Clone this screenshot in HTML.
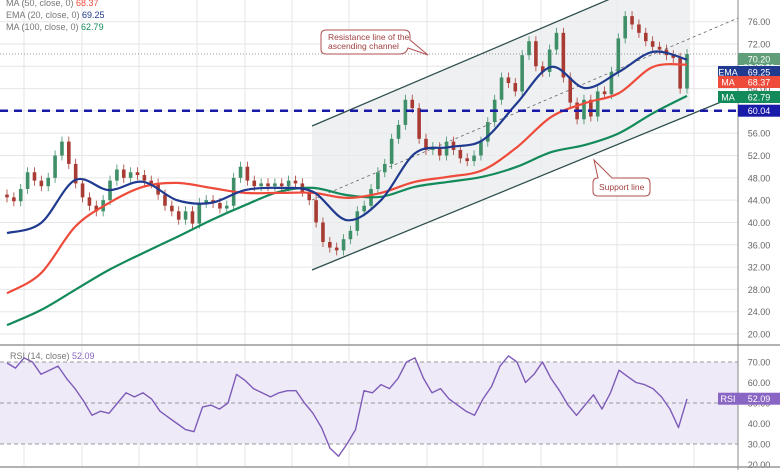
<!DOCTYPE html>
<html><head><meta charset="utf-8"><style>
body{margin:0;background:#fff;font-family:"Liberation Sans",sans-serif}
svg{display:block}
</style></head><body>
<svg id="c" width="780" height="470" viewBox="0 0 780 470"></svg>
<script>
const closes=[44.5,43.8,46,49,47.5,46.5,48,52,54.5,50.5,47,44.5,43,42,44,47.5,49.5,48,49,48.5,47.5,47,45,43,42,40.5,42,39.8,43.5,44,43.5,42.5,43,48,50,47.5,46.5,47,46.5,47,46.5,47.5,47,45.5,44,40,36.5,35.5,35,37,38.5,42,43,46,49,50.5,55,57.5,62,60.5,55,53,53.5,52,54.5,53,51.5,51,52,54.5,58,62,66,65,63.5,70,72.5,68,67,71,74,66,61.5,58.5,62,59,63.5,63,67,73,77,75.5,74,72.5,71.5,71,70,69.5,64,70.2];
const ema20=[38.1,39.9,47.6,45.8,47.3,44,43.5,45.8,46.2,45.5,40.4,44,52.4,53.5,54.8,61.4,67.9,64.1,67,70.6,69.2];
const ma50=[27.3,30.9,39.2,43.5,46.4,47.1,46.2,45.3,45.3,45.3,44.4,45.3,47.3,48.2,49.4,53.5,58.9,61.4,63.2,67.9,68.3];
const ma100=[21.6,24.3,27.9,31.5,34.5,37.4,40.4,43.1,45.5,46.2,44.9,44.6,46.4,47.3,48.2,50,52.6,53.9,56,59.6,62.7];
const rsi=[69.5,67,72,70,64,66,68,62,57,51,44,46,45,50,55,53,55,52,46,43,40,37,36,48,49,47,50,64,61,57,55,53,55,56,56,50,45,38,28,24,30,37,56,55,59,57,62,70,72,62,55,57,52,49,46,44,52,58,68,73,70,60,64,70,62,56,49,44,49,54,47,55,66,63,60,59,57,53,47,38,52];
const priceTicks=["76.00","72.00","68.00","64.00","60.00","56.00","52.00","48.00","44.00","40.00","36.00","32.00","28.00","24.00","20.00"];
const rsiTicks=["70.00","60.00","50.00","40.00","30.00","20.00"];
const vgrid=[24,82,139,197,245,292,349,427,483,541,617,694];

const NS="http://www.w3.org/2000/svg",svg=document.getElementById('c');
const py=p=>44+(72-p)*5.577;
const ry=r=>362+(70-r)*2.05;
const X0=7,X1=687;
const cx=(i,n)=>X0+i*(X1-X0)/(n-1);
function el(t,a,p){const e=document.createElementNS(NS,t);for(const k in a)e.setAttribute(k,a[k]);(p||svg).appendChild(e);return e;}

vgrid.forEach(x=>{const l=el('line',{x1:x,x2:x,y1:0,y2:466,stroke:'#e6e6e6','stroke-width':1});

});
priceTicks.forEach(t=>{const y=py(parseFloat(t));const l=el('line',{x1:0,x2:738,y1:y,y2:y,stroke:'#e6e6e6'});


const tx=el('text',{x:759,y:y+3.5,'font-size':9,fill:'#666','text-anchor':'middle'});tx.textContent=t;

});
const ch=el('polygon',{points:'312,126 608,0 690,0 690,115 312,270',fill:'#e9ebee',opacity:0.75});


const band=el('rect',{x:0,y:ry(70),width:738,height:ry(30)-ry(70),fill:'#eeeaf8'});


[70,50,30].forEach(v=>{const l=el('line',{x1:0,x2:738,y1:ry(v),y2:ry(v),stroke:'#999','stroke-dasharray':'4,3'});

});
rsiTicks.forEach(t=>{const tx=el('text',{x:759,y:ry(parseFloat(t))+3.5,'font-size':9,fill:'#666','text-anchor':'middle'});tx.textContent=t;

});
const sep=el('line',{x1:0,x2:780,y1:345,y2:345,stroke:'#999','stroke-width':1.5});


const ax=el('line',{x1:738,x2:738,y1:0,y2:470,stroke:'#888'});


const bl=el('line',{x1:0,x2:780,y1:467,y2:467,stroke:'#999','stroke-width':1.5});


const lp=el('line',{x1:0,x2:738,y1:py(70.2),y2:py(70.2),stroke:'#999','stroke-dasharray':'1,2'});


const mid=el('line',{x1:312,y1:200,x2:738,y2:18,stroke:'#666','stroke-dasharray':'3,3','stroke-width':0.8});


const up=el('line',{x1:312,y1:126,x2:610,y2:-1,stroke:'#2f4f4f','stroke-width':1.3});


const lo=el('line',{x1:312,y1:270,x2:738,y2:95,stroke:'#2f4f4f','stroke-width':1.3});


const n=closes.length;
for(let i=0;i<n;i++){
  const o=i?closes[i-1]:45,c=closes[i],x=cx(i,n);
  const hi=Math.max(o,c)+0.9,lw=Math.min(o,c)-0.9,col=c>=o?'#3f8f68':'#a83c34';
  const w=el('line',{x1:x,x2:x,y1:py(hi),y2:py(lw),stroke:col,'stroke-width':0.8});
  
  
  const b=el('rect',{x:x-1.8,y:py(Math.max(o,c)),width:3.6,height:Math.max(1,Math.abs(py(o)-py(c))),fill:col});
  
  
}
function smooth(arr,yf,col,w,name){
  const P=arr.map((v,i)=>[cx(i,arr.length),yf(v)]);
  let d='M'+P[0][0]+','+P[0][1];
  for(let i=0;i<P.length-1;i++){
    const p0=P[i-1]||P[i],p1=P[i],p2=P[i+1],p3=P[i+2]||p2;
    const c1=[p1[0]+(p2[0]-p0[0])/6,p1[1]+(p2[1]-p0[1])/6],c2=[p2[0]-(p3[0]-p1[0])/6,p2[1]-(p3[1]-p1[1])/6];
    d+=' C'+c1.map(v=>v.toFixed(1))+' '+c2.map(v=>v.toFixed(1))+' '+p2.map(v=>v.toFixed(1));
  }
  const p=el('path',{d:d,fill:'none',stroke:col,'stroke-width':w});
  
  
}
function line(arr,yf,col,w,name){
  const pts=arr.map((v,i)=>cx(i,arr.length).toFixed(1)+','+yf(v).toFixed(1)).join(' ');
  const p=el('polyline',{points:pts,fill:'none',stroke:col,'stroke-width':w,'stroke-linejoin':'round'});
  
  
}
smooth(ma100,py,'#138a5a',2.2,'ma100-line');
smooth(ma50,py,'#ee4b3b',2.2,'ma50-line');
smooth(ema20,py,'#1f3a8f',2.2,'ema20-line');
line(rsi,ry,'#7e5bb8',1.4,'rsi-line');
const hz=el('line',{x1:0,x2:738,y1:py(60.04),y2:py(60.04),stroke:'#1a1aa8','stroke-width':2.5,'stroke-dasharray':'8,6'});


function tag(x,y,w,bg,txt,name,fc){const g=el('g',{});
el('rect',{x:x,y:y-6,width:w,height:12,fill:bg},g);const t=el('text',{x:x+w/2,y:y+3.5,'font-size':9,fill:fc||'#fff','text-anchor':'middle'},g);t.textContent=txt;}
tag(738,59,42,'#5f9e78','70.20','last-price-tag');
const tm=el('text',{x:759,y:70,'font-size':8,fill:'#dfe','text-anchor':'middle'});tm.textContent='03:35:30';


tag(718,72,20,'#1f3a8f','EMA','ema-tag-name');tag(738,72,42,'#1f3a8f','69.25','ema-tag-value');
tag(718,82,20,'#ee4b3b','MA','ma50-tag-name');tag(738,82,42,'#ee4b3b','68.37','ma50-tag-value');
tag(718,97,20,'#138a5a','MA','ma100-tag-name');tag(738,97,42,'#138a5a','62.79','ma100-tag-value');
tag(738,py(60.04),42,'#1a1aa8','60.04','support-price-tag');
tag(718,ry(52.09),20,'#8a66c4','RSI','rsi-tag-name');tag(738,ry(52.09),42,'#8a66c4','52.09','rsi-tag-value');
</script>
<div style="position:absolute;left:6px;top:-3px;font-size:9px;line-height:12px;color:#777">
<div>MA (50, close, 0) <span style="color:#ee4b3b">68.37</span></div>
<div>EMA (20, close, 0) <span style="color:#1f3a8f">69.25</span></div>
<div>MA (100, close, 0) <span style="color:#138a5a">62.79</span></div>
</div>
<div style="position:absolute;left:10px;top:351px;font-size:9px;color:#777">RSI (14, close) <span style="color:#8a66c4">52.09</span></div>
<svg style="position:absolute;left:0;top:0" width="780" height="470">
<path d="M326,30 H404 Q410,30 410,36 V40 L428,55 L408,48 Q406,54 400,54 H326 Q321,54 321,49 V35 Q321,30 326,30Z" fill="#fff" stroke="#b05050" stroke-width="1"/>
<path d="M598,178 L594,160 L612,178 H645 Q650,178 650,183 V191 Q650,196 645,196 H598 Q593,196 593,191 V183 Q593,178 598,178Z" fill="#fff" stroke="#b05050" stroke-width="1"/>
<text x="328" y="40" font-size="8.5" fill="#a04040" font-family="Liberation Sans"><tspan x="328">Resistance line of the</tspan><tspan x="328" dy="9">ascending channel</tspan></text>
<text x="599" y="190" font-size="8.5" fill="#a04040" font-family="Liberation Sans">Support line</text>
</svg>
</body></html>
